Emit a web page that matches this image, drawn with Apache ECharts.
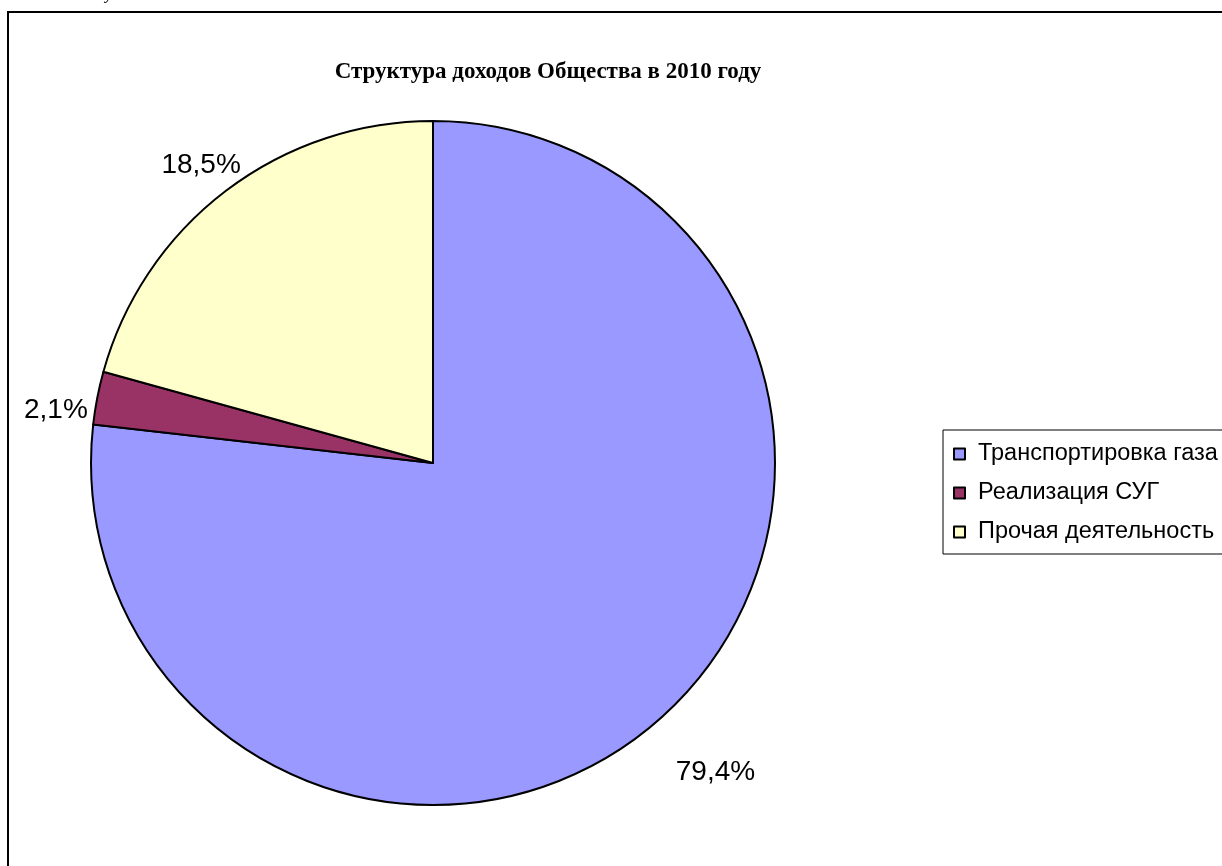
<!DOCTYPE html>
<html>
<head>
<meta charset="utf-8">
<script src="https://cdn.jsdelivr.net/npm/echarts@6/dist/echarts.min.js"></script>
<style>
html,body{margin:0;padding:0;background:#fff;}
#chart{width:1222px;height:866px;}
</style>
</head>
<body>
<div id="chart"></div>
<script>
const titleText = 'Структура доходов Общества в 2010 году';
const categories = ['Транспортировка газа', 'Реализация СУГ', 'Прочая деятельность'];
// slice shares as drawn in the picture (angles)
const sliceValues = [76.8, 2.5, 20.7];
// percentage labels as printed on the reference
const labelTexts = ['79,4%', '2,1%', '18,5%'];
const colors = ['#9999FF', '#993366', '#FFFFCC'];

const labelShift = [[-10, 32], [25, 18], [38, -2]];

const chart = echarts.init(document.getElementById('chart'), null, {renderer: 'canvas'});
const option = {
  backgroundColor: '#fff',
  animation: false,
  title: {
    text: titleText,
    left: 543,
    top: 56,
    textAlign: 'center',
    textStyle: {fontFamily: 'Liberation Serif', fontWeight: 'bold', fontSize: 23, color: '#000'}
  },
  graphic: [
    {type: 'rect', shape: {x: 8, y: 12, width: 1400, height: 1000}, style: {fill: 'none', stroke: '#000', lineWidth: 2}, silent: true},
    {type: 'text', x: 82, y: -14, style: {text: 'году', font: 'italic 17px "Liberation Serif"', fill: '#000'}, silent: true}
  ],
  legend: {
    orient: 'vertical',
    left: 943,
    top: 430,
    width: 400,
    padding: [12, 60, 10, 10],
    borderColor: '#000',
    borderWidth: 1,
    borderRadius: 0,
    icon: 'rect',
    itemWidth: 11,
    itemHeight: 11,
    itemGap: 15,
    data: categories,
    textStyle: {fontFamily: 'Liberation Sans', fontSize: 23.5, color: '#000', lineHeight: 22, padding: [0, 0, 0, 8]}
  },
  series: [{
    type: 'pie',
    center: [433, 463],
    radius: 342,
    startAngle: 90,
    clockwise: true,
    avoidLabelOverlap: false,
    data: categories.map((c, i) => ({name: c, value: sliceValues[i], itemStyle: {color: colors[i]}})),
    itemStyle: {borderColor: '#000', borderWidth: 2},
    label: {
      show: true,
      position: 'outside',
      formatter: p => labelTexts[p.dataIndex],
      fontFamily: 'Liberation Sans',
      fontSize: 28,
      color: '#000'
    },
    labelLayout: p => ({dx: labelShift[p.dataIndex][0], dy: labelShift[p.dataIndex][1]}),
    labelLine: {show: false, length: 30, length2: 0},
    emphasis: {disabled: true}
  }]
};
chart.setOption(option);
</script>
</body>
</html>
